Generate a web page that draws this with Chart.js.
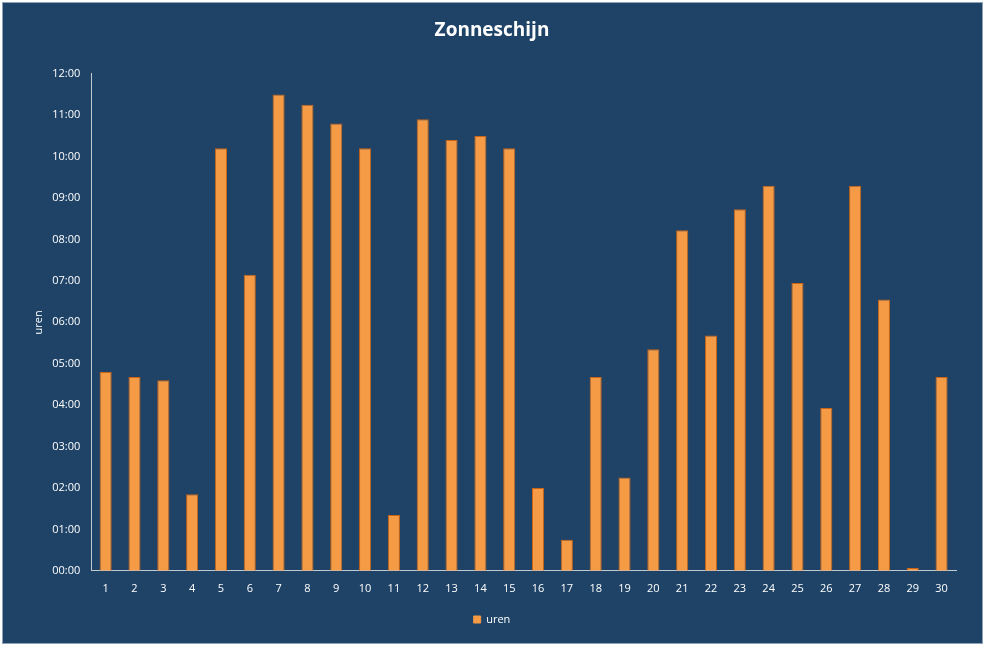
<!DOCTYPE html>
<html><head><meta charset="utf-8">
<script src="https://cdn.jsdelivr.net/npm/chart.js"></script>
<style>html,body{margin:0;padding:0;background:#fff}#w{position:absolute;left:2px;top:2px;width:981px;height:642px;background:#1F4367;border:1px solid #8fa3b8;box-sizing:border-box}</style>
</head><body><div id="w"><canvas id="c"></canvas></div>
<script>
const categories=[1,2,3,4,5,6,7,8,9,10,11,12,13,14,15,16,17,18,19,20,21,22,23,24,25,26,27,28,29,30].map(String);
const uren=[4.8,4.68,4.6,1.85,10.2,7.15,11.5,11.25,10.8,10.2,1.35,10.9,10.4,10.5,10.2,2.0,0.75,4.68,2.25,5.35,8.22,5.68,8.73,9.3,6.95,3.93,9.3,6.55,0.07,4.68];
const ctx=document.getElementById('c');
ctx.width=979;ctx.height=640;
function grad(c){const chart=c.chart;const el=c.element;
 if(!el||typeof el.x!=='number'||!isFinite(el.x))return '#F59A45';
 const w=el.width||12;const g=chart.ctx.createLinearGradient(el.x-w/2,0,el.x+w/2,0);
 g.addColorStop(0,'#E07A20');g.addColorStop(0.45,'#FFC27A');g.addColorStop(1,'#D8701A');return g;}
new Chart(ctx,{type:'bar',data:{labels:categories,datasets:[{label:'uren',data:uren,backgroundColor:grad,borderColor:'#C86414',borderWidth:1,categoryPercentage:1,barPercentage:0.42}]},
options:{responsive:false,animation:false,
layout:{padding:{left:25,right:26,top:4,bottom:8}},
plugins:{title:{display:true,text:'Zonneschijn',color:'#fff',font:{family:'Open Sans',size:19,weight:'bold'},padding:{top:12,bottom:32}},
legend:{position:'bottom',labels:{color:'#fff',boxWidth:7,boxHeight:7,padding:16,font:{family:'Open Sans',size:11},generateLabels:c=>[{text:'uren',fillStyle:'#F59A45',strokeStyle:'#F59A45',fontColor:'#fff'}]}}},
scales:{x:{grid:{display:false},border:{color:'#c0c8d0'},ticks:{color:'#fff',font:{family:'Open Sans',size:11}}},
y:{min:0,max:12,title:{display:true,text:'uren',color:'#fff',font:{family:'Open Sans',size:11}},
ticks:{stepSize:1,color:'#fff',font:{family:'Open Sans',size:11},callback:v=>String(v).padStart(2,'0')+':00'},grid:{display:false},border:{color:'#c0c8d0'}}}}});
</script></body></html>
